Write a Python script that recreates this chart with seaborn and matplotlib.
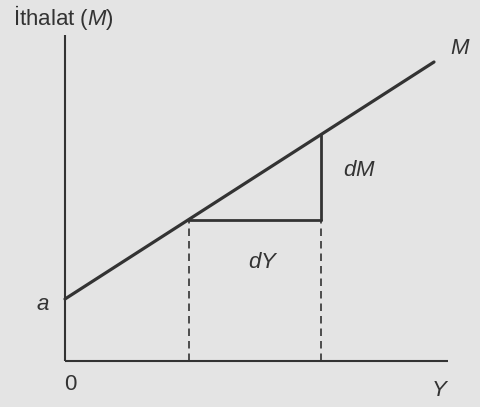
import seaborn as sns
import pandas as pd
import matplotlib
matplotlib.use("Agg")
import matplotlib.pyplot as plt

# M = a + m*Y dogrusu (okunan degerler, pikselden)
y_line = [0, 369]
m_line = [62, 299]
a_val = 62
# iki nokta: dY ve dM
y_pts = [124, 256]
m_pts = [141, 226]
y_max = 383
m_max = 326

sns.set_style("white")
plt.rcParams['font.family'] = ['Liberation Sans', 'DejaVu Sans']
plt.rcParams['mathtext.fontset'] = 'custom'
plt.rcParams['mathtext.rm'] = 'Liberation Sans'
plt.rcParams['mathtext.it'] = 'Liberation Sans:italic'

bg = '#e4e4e4'
ink = '#333333'

fig = plt.figure(figsize=(4.8, 4.07), dpi=100, facecolor=bg)
ax = fig.add_axes([0, 0, 1, 1])
ax.set_facecolor(bg)

df = pd.DataFrame({'Y': y_line, 'M': m_line})
sns.lineplot(data=df, x='Y', y='M', ax=ax, color=ink, linewidth=2.3)

# eksenler
ax.plot([0, 0], [0, m_max], color=ink, linewidth=1.5, solid_capstyle='butt')
ax.plot([0, y_max], [0, 0], color=ink, linewidth=1.5, solid_capstyle='butt')

# dY ve dM ucgeni
ax.plot([y_pts[0], y_pts[1]], [m_pts[0], m_pts[0]], color=ink, linewidth=2.0)
ax.plot([y_pts[1], y_pts[1]], [m_pts[0], m_pts[1]], color=ink, linewidth=2.0)

# kesikli cizgiler
for yv, mv in zip(y_pts, m_pts):
    ax.plot([yv, yv], [0, m_pts[0]], color=ink, linewidth=1.2, linestyle=(0, (4.5, 3)))

fs = 16
ax.text(-52, 344, 'İthalat ($M$)', fontsize=fs, color=ink, va='center', ha='left')
ax.text(y_line[1] + 16, m_line[1] + 13, '$M$', fontsize=fs, color=ink, va='center', ha='left')
ax.text(y_pts[1] + 22, m_pts[0] + 50, '$dM$', fontsize=fs, color=ink, va='center', ha='left')
ax.text(y_pts[0] + 59, m_pts[0] - 42, '$dY$', fontsize=fs, color=ink, va='center', ha='left')
ax.text(-15, a_val - 6, '$a$', fontsize=fs, color=ink, va='center', ha='right')
ax.text(5, -24, '0', fontsize=fs, color=ink, va='center', ha='center')
ax.text(y_max - 8, -29, '$Y$', fontsize=fs, color=ink, va='center', ha='center')

ax.set_xlim(-65, 415)
ax.set_ylim(-46, 361)
ax.axis('off')

fig.savefig('out.png', dpi=100, facecolor=bg)
